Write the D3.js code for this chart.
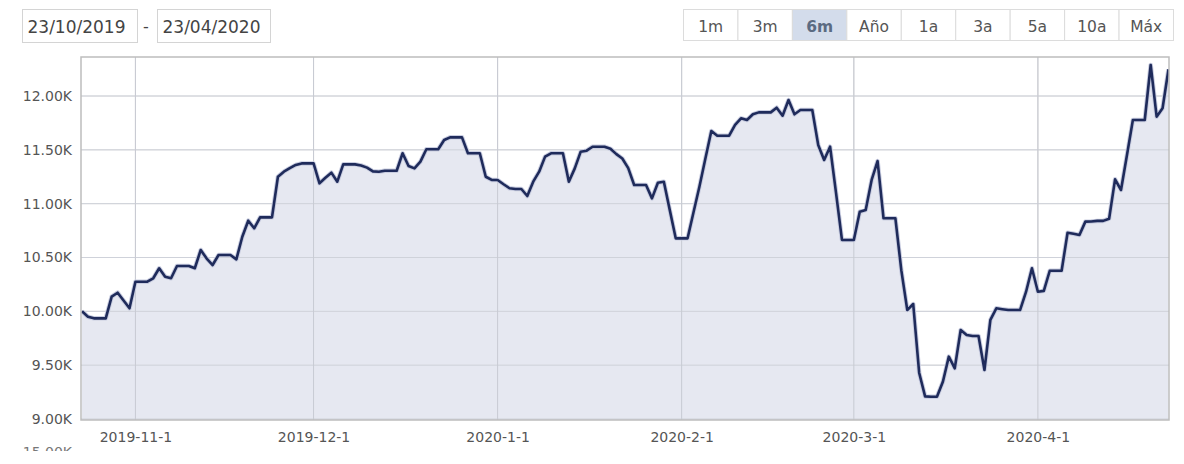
<!DOCTYPE html>
<html>
<head>
<meta charset="utf-8">
<script src="https://cdnjs.cloudflare.com/ajax/libs/d3/7.8.5/d3.min.js"></script>
<style>
  body { margin: 0; background: #fff; }
  svg { display: block; font-family: "DejaVu Sans", Verdana, sans-serif; }
</style>
</head>
<body>
<div id="chart"></div>
<script>
// daily closing values, one array per month (weekends repeat the friday close)
var valuesOct = [10000, 9950, 9935, 9935, 9935, 10136, 10173, 10100, 10028];
var valuesNov = [10275, 10275, 10275, 10307, 10400, 10322, 10307, 10421, 10421, 10421,
                 10400, 10570, 10490, 10430, 10523, 10523, 10523, 10483, 10693, 10842,
                 10771, 10873, 10873, 10873, 11250, 11297, 11330, 11360, 11374, 11374];
var valuesDec = [11374, 11189, 11240, 11288, 11204, 11365, 11365, 11365, 11355, 11335,
                 11300, 11297, 11306, 11306, 11306, 11468, 11350, 11328, 11390, 11505,
                 11505, 11505, 11591, 11616, 11616, 11616, 11468, 11468, 11468, 11250, 11220];
var valuesJan = [11220, 11180, 11143, 11136, 11136, 11071, 11204, 11297, 11437, 11468,
                 11468, 11468, 11204, 11328, 11483, 11492, 11529, 11529, 11529, 11510,
                 11460, 11420, 11330, 11173, 11173, 11173, 11049, 11195, 11204, 10940, 10678];
var valuesFeb = [10678, 10678, 10920, 11160, 11420, 11675, 11631, 11631, 11631, 11731,
                 11793, 11777, 11830, 11848, 11848, 11848, 11891, 11817, 11963, 11830,
                 11870, 11870, 11870, 11545, 11406, 11529, 11100, 10663, 10663];
var valuesMar = [10663, 10925, 10941, 11220, 11396, 10864, 10864, 10864, 10380, 10012,
                 10068, 9430, 9210, 9207, 9207, 9346, 9579, 9471, 9827, 9780,
                 9771, 9771, 9455, 9920, 10028, 10020, 10012, 10012, 10012, 10180, 10400];
var valuesApr = [10182, 10190, 10377, 10377, 10377, 10730, 10720, 10709, 10833, 10835,
                 10840, 10840, 10860, 11226, 11127, 11450, 11777, 11777, 11777, 12288,
                 11808, 11886, 12248];

var startDate = "2019-10-23",
    endDate = "2020-04-23",
    dateLabels = ["23/10/2019", "23/04/2020"],
    rangeButtons = ["1m", "3m", "6m", "Año", "1a", "3a", "5a", "10a", "Máx"],
    activeButton = "6m",
    yTicks = [9000, 9500, 10000, 10500, 11000, 11500, 12000],
    xTicks = ["2019-11-01", "2019-12-01", "2020-01-01", "2020-02-01", "2020-03-01", "2020-04-01"];

var W = 1184, H = 464,
    plot = { left: 81, right: 1169, top: 57, bottom: 420 };

var parse = d3.timeParse("%Y-%m-%d");
var t0 = parse(startDate);
var series = [].concat(valuesOct, valuesNov, valuesDec, valuesJan, valuesFeb, valuesMar, valuesApr)
    .map(function(v, i) { return { date: d3.timeDay.offset(t0, i), value: v }; });

var x = d3.scaleTime()
    .domain([t0, parse(endDate)])
    .range([82, 1168.5]);

var y = d3.scaleLinear()
    .domain([9000, 12000])
    .range([419, 96]);

var svg = d3.select("#chart").append("svg")
    .attr("width", W)
    .attr("height", H);

// date range inputs
var boxes = [{ x: 22.5, w: 115 }, { x: 157.5, w: 113 }];
boxes.forEach(function(b, i) {
  svg.append("rect")
      .attr("x", b.x).attr("y", 9.5)
      .attr("width", b.w).attr("height", 33)
      .attr("fill", "#fff")
      .attr("stroke", "#d4d4d4");
  svg.append("text")
      .attr("x", b.x + 5).attr("y", 33)
      .attr("font-size", 17)
      .attr("fill", "#444")
      .text(dateLabels[i]);
});
svg.append("text")
    .attr("x", 146).attr("y", 32)
    .attr("text-anchor", "middle")
    .attr("font-size", 16)
    .attr("fill", "#444")
    .text("-");

// range buttons
var bx = d3.scaleBand()
    .domain(rangeButtons)
    .range([683.5, 1173.5]);

var btn = svg.append("g").selectAll("g")
    .data(rangeButtons)
    .enter().append("g")
    .attr("transform", function(d) { return "translate(" + bx(d) + ",9.5)"; });

btn.append("rect")
    .attr("width", bx.bandwidth())
    .attr("height", 31)
    .attr("fill", function(d) { return d === activeButton ? "#d3dceb" : "#fff"; })
    .attr("stroke", "#dcdcdc");

btn.append("text")
    .attr("x", bx.bandwidth() / 2)
    .attr("y", 22)
    .attr("text-anchor", "middle")
    .attr("font-size", 15.5)
    .attr("font-weight", function(d) { return d === activeButton ? "bold" : "normal"; })
    .attr("fill", function(d) { return d === activeButton ? "#5b6b82" : "#555"; })
    .text(function(d) { return d; });

// plot
svg.append("defs").append("clipPath")
    .attr("id", "clip")
  .append("rect")
    .attr("x", plot.left).attr("y", plot.top)
    .attr("width", plot.right - plot.left)
    .attr("height", plot.bottom - plot.top);

var tickDates = xTicks.map(parse);

// grid
svg.append("g")
    .attr("class", "grid")
    .selectAll("line.h")
    .data(yTicks)
    .enter().append("line")
    .attr("x1", plot.left).attr("x2", plot.right)
    .attr("y1", function(d) { return y(d); })
    .attr("y2", function(d) { return y(d); })
    .attr("stroke", "#dcdcdc");

svg.append("g")
    .selectAll("line")
    .data(tickDates)
    .enter().append("line")
    .attr("x1", function(d) { return x(d); })
    .attr("x2", function(d) { return x(d); })
    .attr("y1", plot.top).attr("y2", plot.bottom)
    .attr("stroke", "#d2d2d2");

var area = d3.area()
    .x(function(d) { return x(d.date); })
    .y0(plot.bottom)
    .y1(function(d) { return y(d.value); });

var line = d3.line()
    .x(function(d) { return x(d.date); })
    .y(function(d) { return y(d.value); });

var g = svg.append("g").attr("clip-path", "url(#clip)");

g.append("path")
    .datum(series)
    .attr("d", area)
    .attr("fill", "#e3e6ef")
    .attr("fill-opacity", 0.9);

// redraw grid faintly over the fill
g.selectAll("line.over")
    .data(yTicks)
    .enter().append("line")
    .attr("x1", plot.left).attr("x2", plot.right)
    .attr("y1", function(d) { return y(d); })
    .attr("y2", function(d) { return y(d); })
    .attr("stroke", "#cfd2da");

g.selectAll("line.overv")
    .data(tickDates)
    .enter().append("line")
    .attr("x1", function(d) { return x(d); })
    .attr("x2", function(d) { return x(d); })
    .attr("y1", plot.top).attr("y2", plot.bottom)
    .attr("stroke", "#c8cbd3");

g.append("path")
    .datum(series)
    .attr("d", line)
    .attr("fill", "none")
    .attr("stroke", "#c9cde0")
    .attr("stroke-width", 4.5)
    .attr("stroke-linejoin", "round");

g.append("path")
    .datum(series)
    .attr("d", line)
    .attr("fill", "none")
    .attr("stroke", "#1f2b5b")
    .attr("stroke-width", 2.6)
    .attr("stroke-linejoin", "round");

svg.append("rect")
    .attr("x", plot.left).attr("y", plot.top)
    .attr("width", plot.right - plot.left)
    .attr("height", plot.bottom - plot.top)
    .attr("fill", "none")
    .attr("stroke", "#bdbdbd")
    .attr("stroke-width", 1.5);

// axes
var yAxis = d3.axisLeft(y)
    .tickValues(yTicks)
    .tickSize(0)
    .tickPadding(9)
    .tickFormat(function(d) { return d3.format(".2f")(d / 1000) + "K"; });

svg.append("g")
    .attr("transform", "translate(" + plot.left + ",0)")
    .call(yAxis)
    .call(function(s) { s.select(".domain").remove(); })
    .selectAll("text")
    .attr("font-family", "DejaVu Sans, Verdana, sans-serif")
    .attr("font-size", 14)
    .attr("fill", "#555");

var xAxis = d3.axisBottom(x)
    .tickValues(tickDates)
    .tickSize(0)
    .tickPadding(12)
    .tickFormat(d3.timeFormat("%Y-%-m-%-d"));

svg.append("g")
    .attr("transform", "translate(0," + plot.bottom + ")")
    .call(xAxis)
    .call(function(s) { s.select(".domain").remove(); })
    .selectAll("text")
    .attr("font-family", "DejaVu Sans, Verdana, sans-serif")
    .attr("font-size", 14)
    .attr("fill", "#555");

// top of the next chart's first label, cut off by the window
svg.append("clipPath").attr("id", "cut")
  .append("rect").attr("x", 0).attr("y", 444).attr("width", 80).attr("height", 7);
svg.append("text")
    .attr("clip-path", "url(#cut)")
    .attr("x", 72).attr("y", 457)
    .attr("text-anchor", "end")
    .attr("font-size", 14)
    .attr("fill", "#777")
    .text(d3.format(".2f")(15000 / 1000) + "K");
</script>
</body>
</html>
